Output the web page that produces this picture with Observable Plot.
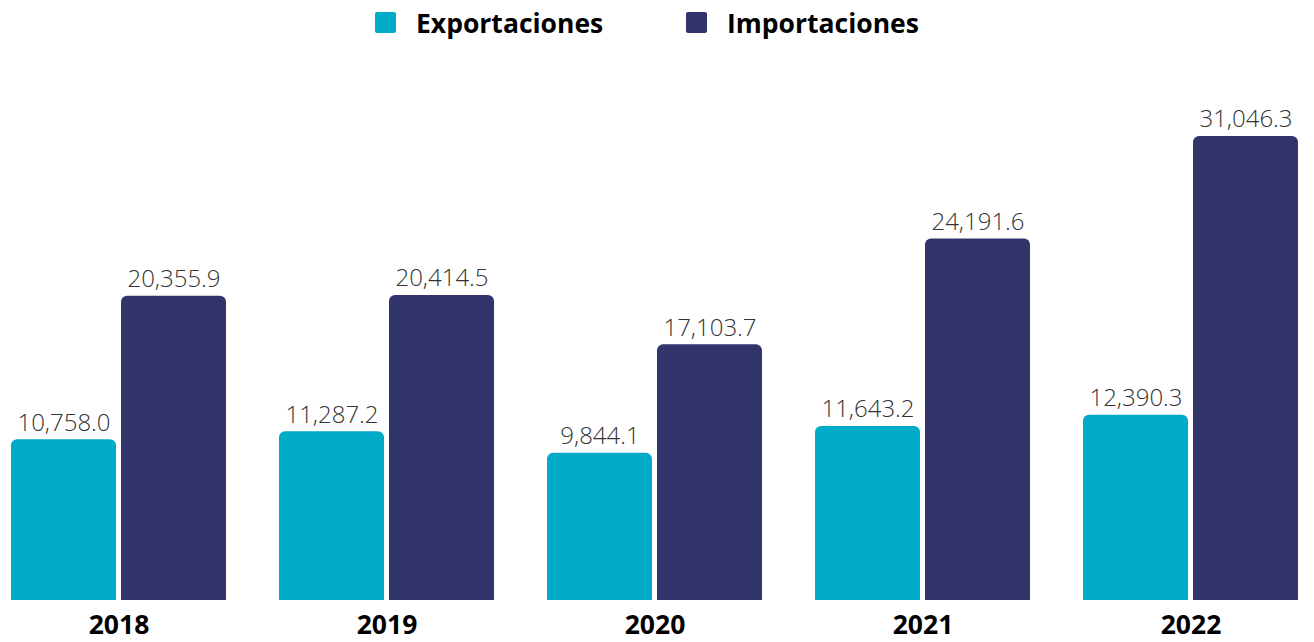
<!DOCTYPE html>
<html>
<head>
<meta charset="utf-8">
<script src="https://cdn.jsdelivr.net/npm/d3@7"></script>
<script src="https://cdn.jsdelivr.net/npm/@observablehq/plot@0.6"></script>
<style>
  html, body { margin: 0; padding: 0; background: #fff; }
  body { width: 1314px; height: 642px; overflow: hidden; font-family: "Open Sans", sans-serif; }
  #legend { height: 50px; position: relative; }
  .item { position: absolute; top: 0; height: 45px; display: flex; align-items: center; font-weight: bold; font-size: 26.5px; color: #000; }
  .sw { width: 21px; height: 21px; border-radius: 2px; margin-right: 20px; }
</style>
</head>
<body>
<div id="legend"></div>
<div id="chart"></div>
<script>
const years = ["2018", "2019", "2020", "2021", "2022"];
const series = ["Exportaciones", "Importaciones"];
const exportaciones = [10758.0, 11287.2, 9844.1, 11643.2, 12390.3];
const importaciones = [20355.9, 20414.5, 17103.7, 24191.6, 31046.3];
const colors = ["#00ABC8", "#31356C"];

const data = [];
years.forEach((yr, i) => {
  data.push({year: yr, serie: series[0], value: exportaciones[i]});
  data.push({year: yr, serie: series[1], value: importaciones[i]});
});

// legend
const legend = document.getElementById("legend");
const positions = [375, 686];
series.forEach((s, i) => {
  const d = document.createElement("div");
  d.className = "item";
  d.style.left = positions[i] + "px";
  d.innerHTML = `<span class="sw" style="background:${colors[i]}"></span><span>${s}</span>`;
  legend.appendChild(d);
});

const fmt = d3.format(",.1f");

const chart = Plot.plot({
  width: 1314,
  height: 592,
  marginLeft: 11,
  marginRight: 15,
  marginTop: 40,
  marginBottom: 42,
  style: {fontFamily: "Open Sans, sans-serif", background: "#fff"},
  fx: {domain: years, paddingInner: 0.1976, paddingOuter: 0, label: null, axis: null},
  x: {domain: series, paddingInner: 0.046, paddingOuter: 0, axis: null},
  y: {domain: [0, 34123], axis: null},
  color: {domain: series, range: colors},
  marks: [
    Plot.barY(data, {fx: "year", x: "serie", y: "value", fill: "serie", rx: 6}),
    Plot.barY(data, {fx: "year", x: "serie", y1: 0, y2: d => d.value / 2, fill: "serie"}),
    Plot.text(data, {fx: "year", x: "serie", y: "value", text: d => fmt(d.value), dy: -9, lineAnchor: "bottom", fontSize: 24, fill: "#333", fontWeight: 300}),
    Plot.axisFx({anchor: "bottom", tickSize: 0, tickPadding: 15, fontSize: 26.5, fontWeight: "bold", fill: "#000", label: null})
  ]
});
document.getElementById("chart").appendChild(chart);
</script>
</body>
</html>
